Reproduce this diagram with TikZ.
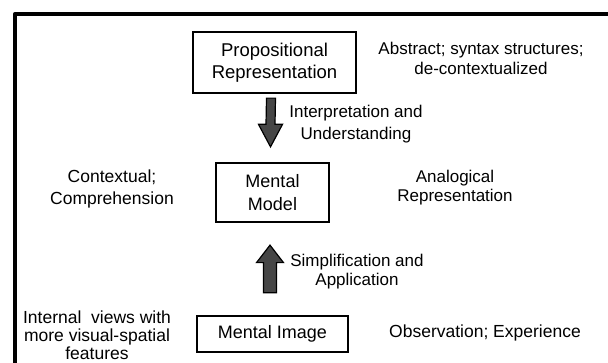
\documentclass[tikz,border=0pt]{standalone}
\usepackage{fontspec}
\setmainfont{Liberation Sans}
\usetikzlibrary{calc}
\definecolor{arrowfill}{RGB}{70,70,70}
\tikzset{
  boxnode/.style={draw, line width=1.3pt, inner sep=0pt, align=center,
    font=\fontsize{17.5}{22}\selectfont},
  lbl/.style={inner sep=0pt, align=center, font=\fontsize{17}{20}\selectfont},
  blockarrow/.style={draw, line width=1.2pt, fill=arrowfill, line join=miter}
}
\begin{document}
\begin{tikzpicture}[x=1pt,y=-1pt]
\useasboundingbox (0,0) rectangle (608,363);
% outer frame (right and bottom edges outside the picture)
\draw[line width=3.8pt, line join=round] (14.7,363) -- (14.7,14) -- (608,14);

% boxes
\node[boxnode, minimum width=163pt, minimum height=61pt, font=\fontsize{18.5}{22}\selectfont] (prop) at (274.5,62.5)
  {Propositional\\Representation};
\node[boxnode, minimum width=113pt, minimum height=59pt, font=\fontsize{18}{22.5}\selectfont] (mm) at (272.5,192.5)
  {Mental\\Model};
\node[boxnode, minimum width=151pt, minimum height=36pt, font=\fontsize{18}{22}\selectfont] (mi) at (272.5,334)
  {Mental Image};

% labels
\node[lbl] (abs) at (481,58.5) {Abstract; syntax structures;\\de-contextualized};
\node[lbl, font=\fontsize{17}{22}\selectfont] (interp) at (356,124) {Interpretation and\\Understanding};
\node[lbl, font=\fontsize{17.5}{22}\selectfont] (ctx) at (112,189) {Contextual;\\Comprehension};
\node[lbl, font=\fontsize{17}{19}\selectfont] (analog) at (455,187.5) {Analogical\\Representation};
\node[lbl, font=\fontsize{17}{19}\selectfont] (simp) at (357,271.5) {Simplification and\\Application};
\node[lbl, font=\fontsize{17.5}{18}\selectfont] (intv) at (97,335) {Internal\ \ views with\\more visual-spatial\\features};
\node[lbl, font=\fontsize{17.5}{20}\selectfont] (obs) at (485,333) {Observation; Experience};

% down block arrow: prop -> mm
\coordinate (dtop) at ($(prop.south)+(-3.5,4.5)$);
\coordinate (dtip) at ($(mm.north)+(-2,-15.5)$);
\draw[blockarrow]
  ($(dtop)+(-4.5,0)$) -- ($(dtop)+(4.5,0)$) -- ($(dtip)+(4.5,-22.5)$)
  -- ($(dtip)+(12,-22.5)$) -- (dtip) -- ($(dtip)+(-12,-22.5)$)
  -- ($(dtip)+(-4.5,-22.5)$) -- cycle;

% up block arrow: mi -> mm
\coordinate (ubot) at ($(mi.north)+(-2.5,-22.5)$);
\coordinate (utip) at ($(mm.south)+(-2.5,22.5)$);
\draw[blockarrow]
  ($(ubot)+(-6.5,0)$) -- ($(ubot)+(6.5,0)$) -- ($(utip)+(6.5,17.5)$)
  -- ($(utip)+(13.5,17.5)$) -- (utip) -- ($(utip)+(-13.5,17.5)$)
  -- ($(utip)+(-6.5,17.5)$) -- cycle;
\end{tikzpicture}
\end{document}
